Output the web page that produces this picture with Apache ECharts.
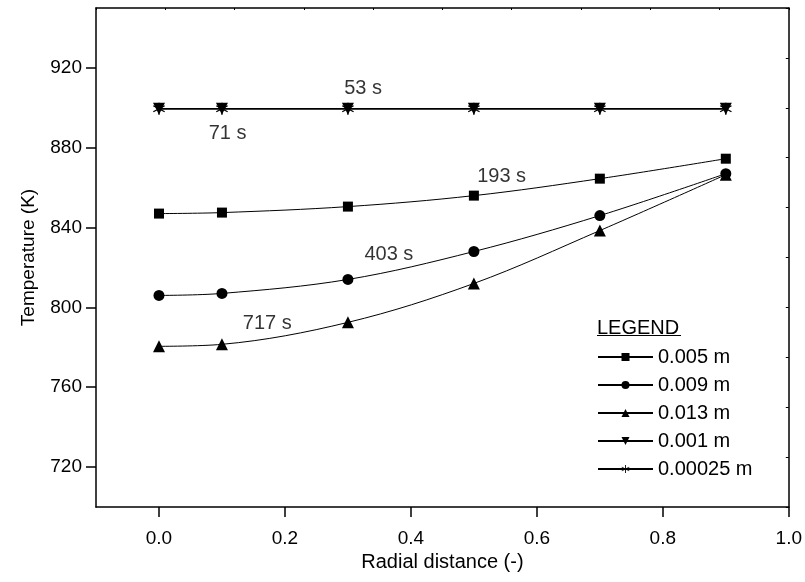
<!DOCTYPE html>
<html>
<head>
<meta charset="utf-8">
<script src="https://cdn.jsdelivr.net/npm/echarts@6/dist/echarts.min.js"></script>
<style>
  html, body { margin: 0; padding: 0; background: #fff; }
  #chart { width: 805px; height: 582px; }
</style>
</head>
<body>
<div id="chart"></div>
<script>
// Radial positions of the thermocouples (dimensionless radius)
const radial = [0, 0.1, 0.3, 0.5, 0.7, 0.9];

// Temperature profiles (K) for each particle size
const t005 = [847, 847.5, 850.5, 856, 864.5, 874.5];
const t009 = [806, 807, 814, 828, 846, 867];
const t013 = [780.5, 781.5, 792.5, 812, 838.5, 866.5];
const t001 = [899.5, 899.5, 899.5, 899.5, 899.5, 899.5];
const t00025 = [899.5, 899.5, 899.5, 899.5, 899.5, 899.5];

const seriesNames = ['0.005 m', '0.009 m', '0.013 m', '0.001 m', '0.00025 m'];

// Time annotations placed in data coordinates: [x, y, text]
const notes = [
  [0.324, 909.6, '53 s'],
  [0.109, 887, '71 s'],
  [0.544, 865.5, '193 s'],
  [0.365, 826.4, '403 s'],
  [0.172, 791.8, '717 s']
];

const yTicks = [720, 760, 800, 840, 880, 920];
const xTicks = [0, 0.2, 0.4, 0.6, 0.8, 1.0];

const FONT = 'Liberation Sans, Arial, sans-serif';
const asterisk = 'path://M9,0L11,0L11,20L9,20Z' +
  'M1.84,15.87L0.84,14.13L18.16,4.13L19.16,5.87Z' +
  'M0.84,5.87L1.84,4.13L19.16,14.13L18.16,15.87Z';

function pairs(ys) { return radial.map((x, i) => [x, ys[i]]); }

function lineSeries(name, ys, symbol, size, extra) {
  return Object.assign({
    name: name,
    type: 'line',
    xAxisIndex: 0,
    yAxisIndex: 0,
    data: pairs(ys),
    symbol: symbol,
    symbolSize: size,
    smooth: 0.35,
    lineStyle: { color: '#000', width: 1 },
    itemStyle: { color: '#000' },
    emphasis: { disabled: true },
    animation: false
  }, extra || {});
}

const chart = echarts.init(document.getElementById('chart'));
chart.setOption({
  backgroundColor: '#fff',
  animation: false,
  grid: { left: 96, right: 14, top: 8, bottom: 75 },
  xAxis: [{
    type: 'value',
    min: -0.1,
    max: 1.0,
    name: 'Radial distance (-)',
    nameLocation: 'middle',
    nameGap: 45,
    nameTextStyle: { fontFamily: FONT, fontSize: 20, color: '#000' },
    axisLine: { onZero: false, lineStyle: { color: '#000', width: 1.5 } },
    axisTick: { show: true, inside: false, length: 10, lineStyle: { color: '#000', width: 1.5 }, customValues: xTicks },
    axisLabel: { customValues: xTicks, margin: 22, fontFamily: FONT, fontSize: 19, color: '#000',
      formatter: v => Number(v).toFixed(1) },
    splitLine: { show: false }
  }, {
    type: 'value',
    position: 'top',
    min: 0, max: 10, interval: 1,
    axisLine: { show: true, onZero: false, lineStyle: { color: '#000', width: 1.5 } },
    axisTick: { show: true, inside: true, length: 2, lineStyle: { color: '#000', width: 1 } },
    axisLabel: { show: false },
    splitLine: { show: false }
  }],
  yAxis: [{
    type: 'value',
    min: 700,
    max: 950,
    name: 'Temperature (K)',
    nameLocation: 'middle',
    nameGap: 58,
    nameTextStyle: { fontFamily: FONT, fontSize: 19, color: '#000' },
    axisLine: { show: true, onZero: false, lineStyle: { color: '#000', width: 1.5 } },
    axisTick: { show: true, inside: false, length: 10, lineStyle: { color: '#000', width: 1.5 }, customValues: yTicks },
    axisLabel: { customValues: yTicks, margin: 14, fontFamily: FONT, fontSize: 19, color: '#000' },
    splitLine: { show: false }
  }, {
    type: 'value',
    position: 'right',
    min: 0, max: 10, interval: 1,
    axisLine: { show: true, onZero: false, lineStyle: { color: '#000', width: 1.5 } },
    axisTick: { show: true, inside: true, length: 3, lineStyle: { color: '#000', width: 1 } },
    axisLabel: { show: false },
    splitLine: { show: false }
  }],
  legend: {
    orient: 'vertical',
    left: 592,
    top: 342,
    padding: 5,
    itemWidth: 55,
    itemHeight: 10,
    itemGap: 8,
    data: seriesNames,
    textStyle: { fontFamily: FONT, fontSize: 20, color: '#000' },
    inactiveColor: '#000',
    selectedMode: false
  },
  graphic: [
    { type: 'text', left: 597, top: 318, style: { text: 'LEGEND', font: '20px ' + FONT, fill: '#000' } },
    { type: 'line', shape: { x1: 597, y1: 335.5, x2: 681, y2: 335.5 }, style: { stroke: '#000', lineWidth: 1.2 } }
  ],
  series: [
    lineSeries(seriesNames[0], t005, 'rect', 10),
    lineSeries(seriesNames[1], t009, 'circle', 11),
    lineSeries(seriesNames[2], t013, 'triangle', 12),
    lineSeries(seriesNames[3], t001, 'triangle', 12, { symbolRotate: 180, smooth: false, lineStyle: { color: '#000', width: 1.5 } }),
    lineSeries(seriesNames[4], t00025, asterisk, 12, { smooth: false, lineStyle: { color: '#000', width: 1.5 } }),
    {
      name: 'notes',
      type: 'scatter',
      xAxisIndex: 0,
      yAxisIndex: 0,
      symbolSize: 0,
      silent: true,
      data: notes.map(n => ({ value: [n[0], n[1]], name: n[2] })),
      label: { show: true, position: 'inside', formatter: p => p.name,
        fontFamily: FONT, fontSize: 20, color: '#000' }
    }
  ]
});
</script>
</body>
</html>
